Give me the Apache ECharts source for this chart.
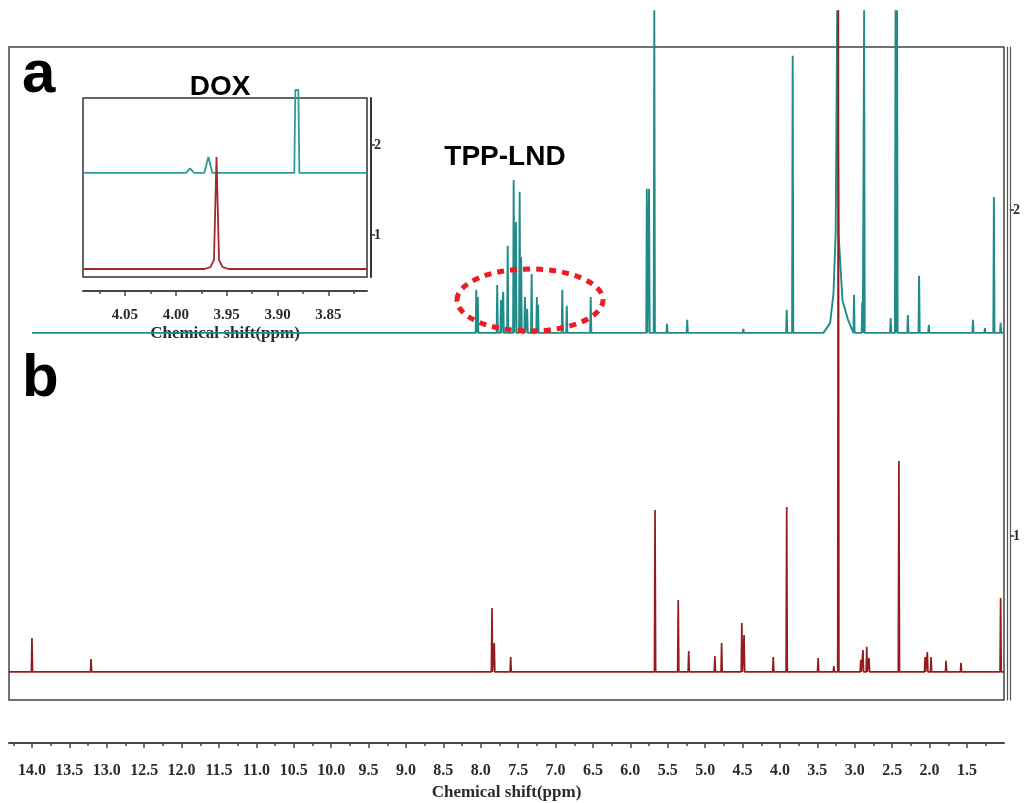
<!DOCTYPE html>
<html>
<head>
<meta charset="utf-8">
<script src="https://cdn.jsdelivr.net/npm/echarts@6/dist/echarts.min.js"></script>
<style>
  html, body { margin: 0; padding: 0; background: #fff; }
  #nmr { width: 1025px; height: 803px; }
</style>
</head>
<body>
<div id="nmr"></div>
<script>
// tick labels (ppm)
var mainTickLabels = ['14.0', '13.5', '13.0', '12.5', '12.0', '11.5', '11.0', '10.5', '10.0', '9.5', '9.0', '8.5', '8.0',
  '7.5', '7.0', '6.5', '6.0', '5.5', '5.0', '4.5', '4.0', '3.5', '3.0', '2.5', '2.0', '1.5'];
var mainMinorTicks = [14.25, 13.75, 13.25, 12.75, 12.25, 11.75, 11.25, 10.75, 10.25, 9.75, 9.25, 8.75, 8.25,
  7.75, 7.25, 6.75, 6.25, 5.75, 5.25, 4.75, 4.25, 3.75, 3.25, 2.75, 2.25, 1.75, 1.25];
var insetTickLabels = ['4.05', '4.00', '3.95', '3.90', '3.85'];
var insetMinorTicks = [4.075, 4.025, 3.975, 3.925, 3.875, 3.825];
var stackLabels = [1, 2];

// a: TPP-LND spectrum (stack offset + peaks)
var tppBase = 1.623;
var tppPpm = [8.06, 8.04, 7.78, 7.73, 7.70, 7.64, 7.56, 7.53, 7.48, 7.46, 7.41, 7.38, 7.32, 7.25, 7.235,
  6.91, 6.85, 6.53, 5.78, 5.75, 5.68, 5.51, 5.24, 4.49, 3.91, 3.83, 3.01, 2.90, 2.875, 2.52, 2.455, 2.435,
  2.29, 2.14, 2.01, 1.42, 1.26, 1.14, 1.05];
var tppHeight = [0.132, 0.110, 0.147, 0.101, 0.126, 0.267, 0.469, 0.340, 0.433, 0.233, 0.110, 0.074, 0.181, 0.110, 0.086,
  0.132, 0.083, 0.110, 0.442, 0.442, 0.99, 0.028, 0.040, 0.012, 0.071, 0.850, 0.117, 0.095, 0.99, 0.046, 0.99, 0.99,
  0.055, 0.175, 0.025, 0.040, 0.015, 0.417, 0.031];
// broad water signal of TPP-LND
var tppWaterPpm = [3.42, 3.33, 3.285, 3.255, 3.235, 3.215, 3.165, 3.09, 3.045];
var tppWaterHeight = [0, 0.03, 0.12, 0.31, 0.99, 0.30, 0.10, 0.04, 0.015];

// b: DOX spectrum
var doxBase = 0.583;
var doxPpm = [14.00, 13.21, 7.85, 7.82, 7.60, 5.67, 5.36, 5.22, 4.87, 4.78, 4.51, 4.48, 4.27, 4.09, 3.91,
  3.49, 3.28, 3.22, 2.92, 2.89, 2.84, 2.81, 2.41, 2.06, 2.03, 1.98, 1.78, 1.58, 1.05];
var doxHeight = [0.104, 0.040, 0.196, 0.089, 0.046, 0.497, 0.221, 0.064, 0.049, 0.089, 0.150, 0.113, 0.006, 0.046, 0.506,
  0.043, 0.018, 2.03, 0.037, 0.067, 0.077, 0.043, 0.647, 0.046, 0.061, 0.046, 0.034, 0.028, 0.227];

// inset (3.81 - 4.09 ppm)
var insetTppBase = 1.689;
var insetTppPpm = [3.986, 3.968, 3.8825, 3.8795];
var insetTppHeight = [0.05, 0.178, 0.922, 0.922];
var insetDoxBase = 0.622;
var insetDoxPpm = [3.960];
var insetDoxHeight = [1.244];
// foot of the DOX inset signal
var insetDoxFootPpm = [3.966, 3.9625, 3.9575, 3.954];
var insetDoxFootHeight = [0.02, 0.10, 0.10, 0.02];

function trace(base, ppm, height, hw, from, to, profPpm, profH) {
  var pts = [[from, base], [to, base]];
  ppm.forEach(function (p, i) {
    pts.push([p + hw, base], [p, base + height[i]], [p - hw, base]);
  });
  if (profPpm) {
    profPpm.forEach(function (p, i) { pts.push([p, base + profH[i]]); });
  }
  pts.sort(function (a, b) { return b[0] - a[0]; });
  return pts;
}

var mainMin = 1.005, mainMax = 14.307;
var tppLine = trace(tppBase, tppPpm, tppHeight, 0.008, 14.0, mainMin, tppWaterPpm, tppWaterHeight);
var doxLine = trace(doxBase, doxPpm, doxHeight, 0.008, mainMax, mainMin);
var insetTppLine = trace(insetTppBase, insetTppPpm, insetTppHeight, 0.004, 4.0913, 3.812);
// DOX inset: the peak sits on its foot, so the foot points replace the triangle bases
var insetDoxLine = [[4.0913, insetDoxBase], [3.972, insetDoxBase]]
  .concat(insetDoxFootPpm.slice(0, 2).map(function (p, i) { return [p, insetDoxBase + insetDoxFootHeight[i]]; }))
  .concat([[insetDoxPpm[0], insetDoxBase + insetDoxHeight[0]]])
  .concat(insetDoxFootPpm.slice(2).map(function (p, i) { return [p, insetDoxBase + insetDoxFootHeight[i + 2]]; }))
  .concat([[3.948, insetDoxBase], [3.812, insetDoxBase]]);

var tickFont = { fontFamily: 'Liberation Serif', fontWeight: 'bold', color: '#2b2b2b' };
var axisGray = '#474747';

var myChart = echarts.init(document.getElementById('nmr'));
myChart.setOption({
  animation: false,
  backgroundColor: '#fff',
  grid: [
    { left: 9, right: 21, top: 47, bottom: 103, show: true, borderColor: '#444', borderWidth: 1.5, outerBoundsMode: 'none' },
    { left: 83, right: 658, top: 98, bottom: 526, show: true, borderColor: '#333', borderWidth: 1.5, outerBoundsMode: 'none' }
  ],
  xAxis: [
    {
      gridIndex: 0, type: 'value', min: mainMin, max: mainMax, inverse: true, position: 'bottom', offset: 43,
      splitLine: { show: false },
      axisLine: { lineStyle: { color: axisGray, width: 2 } },
      axisTick: { customValues: mainTickLabels.map(parseFloat), length: 5, lineStyle: { color: axisGray, width: 1.5 } },
      axisLabel: Object.assign({ customValues: mainTickLabels.map(parseFloat), fontSize: 16, margin: 20,
        formatter: function (v) { return v.toFixed(1); } }, tickFont),
      name: 'Chemical shift(ppm)', nameLocation: 'middle', nameGap: 40,
      nameTextStyle: { fontFamily: 'Liberation Serif', fontWeight: 'bold', fontSize: 17, color: '#2b2b2b' }
    },
    {
      gridIndex: 0, type: 'value', min: mainMin, max: mainMax, inverse: true, position: 'bottom', offset: 43,
      splitLine: { show: false }, axisLine: { show: false }, axisLabel: { show: false },
      axisTick: { customValues: mainMinorTicks, length: 3, lineStyle: { color: axisGray, width: 1.5 } }
    },
    {
      gridIndex: 1, type: 'value', min: 3.812, max: 4.0913, inverse: true, position: 'bottom', offset: 14,
      splitLine: { show: false },
      axisLine: { lineStyle: { color: axisGray, width: 2 } },
      axisTick: { customValues: insetTickLabels.map(parseFloat), length: 5, lineStyle: { color: axisGray, width: 1.5 } },
      axisLabel: Object.assign({ customValues: insetTickLabels.map(parseFloat), fontSize: 15, margin: 17,
        formatter: function (v) { return v.toFixed(2); } }, tickFont),
      name: 'Chemical shift(ppm)', nameLocation: 'middle', nameGap: 34,
      nameTextStyle: { fontFamily: 'Liberation Serif', fontWeight: 'bold', fontSize: 17, color: '#2b2b2b' }
    },
    {
      gridIndex: 1, type: 'value', min: 3.812, max: 4.0913, inverse: true, position: 'bottom', offset: 14,
      splitLine: { show: false }, axisLine: { show: false }, axisLabel: { show: false },
      axisTick: { customValues: insetMinorTicks, length: 3, lineStyle: { color: axisGray, width: 1.5 } }
    }
  ],
  yAxis: [
    {
      gridIndex: 0, type: 'value', min: 0.497, max: 2.5, position: 'right', offset: 3,
      splitLine: { show: false }, axisTick: { show: false }, axisLabel: { show: false },
      axisLine: { show: true, lineStyle: { color: '#555', width: 1.2 } }
    },
    {
      gridIndex: 0, type: 'value', min: 0.497, max: 2.5, position: 'right', offset: 6,
      splitLine: { show: false },
      axisLine: { show: true, lineStyle: { color: '#555', width: 1.2 } },
      axisTick: { show: true, customValues: stackLabels, length: 4, lineStyle: { color: '#333', width: 1.5 } },
      axisLabel: Object.assign({ customValues: stackLabels, fontSize: 14, margin: 3 }, tickFont)
    },
    {
      gridIndex: 1, type: 'value', min: 0.533, max: 2.522, position: 'right', offset: 4,
      splitLine: { show: false },
      axisLine: { show: true, lineStyle: { color: '#333', width: 2 } },
      axisTick: { show: true, customValues: stackLabels, length: 4, lineStyle: { color: '#333', width: 1.5 } },
      axisLabel: Object.assign({ customValues: stackLabels, fontSize: 14, margin: 3 }, tickFont)
    }
  ],
  series: [
    {
      name: 'TPP-LND', type: 'line', xAxisIndex: 0, yAxisIndex: 0, data: tppLine,
      showSymbol: false, clip: false, lineStyle: { color: '#1f8c89', width: 1.9 }, z: 3
    },
    {
      name: 'DOX', type: 'line', xAxisIndex: 0, yAxisIndex: 0, data: doxLine,
      showSymbol: false, clip: false, lineStyle: { color: '#931c1f', width: 1.7 }, z: 4
    },
    {
      name: 'TPP-LND inset', type: 'line', xAxisIndex: 2, yAxisIndex: 2, data: insetTppLine,
      showSymbol: false, clip: false, lineStyle: { color: '#2e9c98', width: 1.8 }, z: 3
    },
    {
      name: 'DOX inset', type: 'line', xAxisIndex: 2, yAxisIndex: 2, data: insetDoxLine,
      showSymbol: false, clip: false, lineStyle: { color: '#a2282b', width: 1.8 }, z: 4
    }
  ],
  graphic: [
    { type: 'text', x: 22, y: 75, z: 10, style: { text: 'a', font: 'bold 60px "Liberation Sans"', fill: '#000', verticalAlign: 'middle' } },
    { type: 'text', x: 22, y: 379, z: 10, style: { text: 'b', font: 'bold 60px "Liberation Sans"', fill: '#000', verticalAlign: 'middle' } },
    { type: 'text', x: 220, y: 87, z: 10, style: { text: 'DOX', font: 'bold 28px "Liberation Sans"', fill: '#000', align: 'center', verticalAlign: 'middle' } },
    { type: 'text', x: 505, y: 157, z: 10, style: { text: 'TPP-LND', font: 'bold 28px "Liberation Sans"', fill: '#000', align: 'center', verticalAlign: 'middle' } },
    { type: 'ellipse', z: 20, shape: { cx: 530, cy: 300, rx: 73, ry: 31 },
      style: { fill: 'none', stroke: '#ea1c24', lineWidth: 5, lineDash: [7, 6] } }
  ]
});
</script>
</body>
</html>
